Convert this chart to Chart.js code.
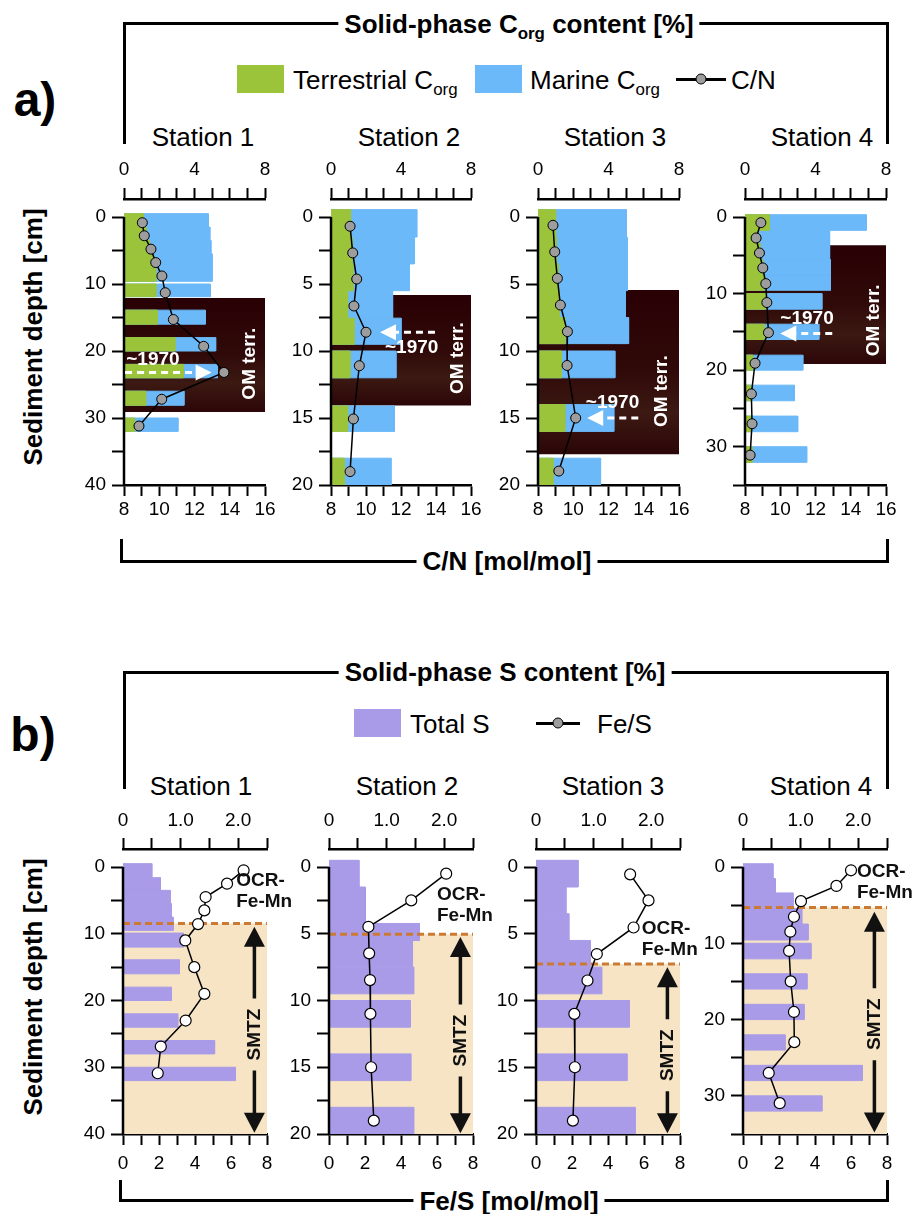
<!DOCTYPE html>
<html>
<head>
<meta charset="utf-8">
<title>Corg and S depth profiles</title>
<script src="https://cdn.jsdelivr.net/npm/chart.js@4.4.1/dist/chart.umd.min.js"></script>
<style>
  body { margin: 0; background: #fff; }
  #fig { position: relative; width: 914px; height: 1214px; overflow: hidden;
         font-family: "Liberation Sans", Arial, sans-serif; color: #000; }
  #fig canvas { position: absolute; }
  .t { position: absolute; white-space: nowrap; line-height: 1; transform: translate(-50%, -50%); }
  .l { position: absolute; white-space: nowrap; line-height: 1; transform: translateY(-50%); }
  .b { font-weight: bold; }
  .rot { transform: translate(-50%, -50%) rotate(-90deg); }
  .ttl { background: #fff; padding: 0 6px; font-size: 26px; font-weight: bold; }
  sub { font-size: 65%; vertical-align: baseline; position: relative; top: 0.38em; }
  .brk { position: absolute; box-sizing: border-box; border: 0 solid #000; }
  .sq { position: absolute; width: 47px; height: 28px; }
  .sym { position: absolute; height: 3.5px; background: #000; }
  .dot { position: absolute; width: 11px; height: 11px; border-radius: 50%; background: #9d9d9d;
         border: 1.5px solid #000; box-sizing: border-box; transform: translate(-50%, -50%); }
</style>
</head>
<body>
<div id="fig">
  <div class="t b" style="left:35px;top:100px;font-size:48px">a)</div>
  <div class="t b" style="left:33px;top:735px;font-size:48px">b)</div>

  <!-- a) brackets, title, legend -->
  <div class="brk" style="left:123px;top:22px;width:766px;height:122px;border-width:3px 3px 0 3px"></div>
  <div class="t ttl" style="left:519px;top:24px">Solid-phase C<sub>org</sub> content [%]</div>
  <div class="sq" style="left:237px;top:65px;background:#9bc43b"></div>
  <div class="l" style="left:293px;top:80px;font-size:26px">Terrestrial C<sub>org</sub></div>
  <div class="sq" style="left:475px;top:65px;background:#6cb9f9"></div>
  <div class="l" style="left:530px;top:80px;font-size:26px">Marine C<sub>org</sub></div>
  <div class="sym" style="left:676px;top:77.5px;width:50px"></div>
  <div class="dot" style="left:701px;top:79px"></div>
  <div class="l" style="left:731px;top:80px;font-size:26px">C/N</div>
  <div class="brk" style="left:120px;top:539px;width:769px;height:24px;border-width:0 3px 3px 3px"></div>
  <div class="t ttl" style="left:507px;top:561px">C/N [mol/mol]</div>
  <div class="t b rot" style="left:33px;top:337px;font-size:26px">Sediment depth [cm]</div>

  <!-- b) brackets, title, legend -->
  <div class="brk" style="left:123px;top:671px;width:766px;height:118px;border-width:3px 3px 0 3px"></div>
  <div class="t ttl" style="left:505px;top:672px">Solid-phase S content [%]</div>
  <div class="sq" style="left:354px;top:709px;background:#a99be8"></div>
  <div class="l" style="left:410px;top:724px;font-size:26px">Total S</div>
  <div class="sym" style="left:536px;top:721.5px;width:44px"></div>
  <div class="dot" style="left:558px;top:723px"></div>
  <div class="l" style="left:597px;top:724px;font-size:26px">Fe/S</div>
  <div class="brk" style="left:119px;top:1180px;width:770px;height:22px;border-width:0 3px 3px 3px"></div>
  <div class="t ttl" style="left:509px;top:1201px">Fe/S [mol/mol]</div>
  <div class="t b rot" style="left:33px;top:987px;font-size:26px">Sediment depth [cm]</div>
</div>

<script>
// ---------------- data ----------------
const stations = ["Station 1", "Station 2", "Station 3", "Station 4"];
const depthMax = [40, 20, 20, 35];
const depthTicks = [
  [0, 5, 10, 15, 20, 25, 30, 35, 40],
  [0, 2.5, 5, 7.5, 10, 12.5, 15, 17.5, 20],
  [0, 2.5, 5, 7.5, 10, 12.5, 15, 17.5, 20],
  [0, 5, 10, 15, 20, 25, 30, 35]
];
const depthLabelStep = [10, 5, 5, 10];

const corgTicks = [0, 1, 2, 3, 4, 5, 6, 7, 8];
const cnTicks = [8, 9, 10, 11, 12, 13, 14, 15, 16];
const sTicks = [0, 0.5, 1, 1.5, 2, 2.5];
const fesTicks = [0, 1, 2, 3, 4, 5, 6, 7, 8];

// a) Corg bars: depth interval (cm), terrestrial + marine Corg (%)
const corgBarTop = [
  [-0.5, 1.5, 3.5, 5.5, 7.5, 10.0, 13.9, 18.0, 22.0, 26.0, 30.0],
  [-0.55, 1.5, 3.5, 5.5, 7.55, 10.0, 14.1, 18.0],
  [-0.55, 1.5, 3.5, 5.5, 7.5, 10.0, 14.0, 18.0],
  [-0.3, 1.74, 3.48, 5.57, 7.6, 10.0, 14.0, 18.04, 21.96, 26.0, 30.0]
];
const corgBarBottom = [
  [1.5, 3.5, 5.5, 7.5, 9.6, 11.9, 16.0, 20.0, 24.0, 28.1, 32.0],
  [1.5, 3.5, 5.5, 7.55, 9.5, 12.0, 16.0, 20.0],
  [1.5, 3.5, 5.5, 7.5, 9.45, 12.0, 16.0, 20.0],
  [1.74, 3.48, 5.57, 7.6, 9.57, 12.04, 16.0, 20.0, 24.0, 28.04, 32.04]
];
const terrCorg = [
  [1.1, 1.25, 1.45, 1.65, 1.8, 1.81, 1.89, 2.89, 3.36, 1.23, 0.6],
  [1.12, 1.2, 1.25, 0.95, 1.31, 1.08, 0.95, 0.76],
  [1.0, 1.05, 1.15, 1.2, 1.52, 1.33, 1.52, 0.85],
  [1.39, 0.76, 0.85, 1.0, 1.1, 1.14, 1.09, 0.44, 0.32, 0.32, 0.4]
];
const marineCorg = [
  [3.68, 3.62, 3.48, 3.35, 3.2, 3.09, 2.72, 2.31, 1.94, 2.17, 2.46],
  [3.78, 3.56, 3.23, 2.57, 2.69, 2.63, 2.67, 2.67],
  [4.02, 4.01, 3.91, 3.75, 3.62, 3.03, 2.78, 2.7],
  [5.49, 4.04, 3.95, 3.85, 3.75, 3.22, 3.1, 2.84, 2.48, 2.67, 3.1]
];
// C/N (mol/mol)
const cnDepth = [
  [0.85, 2.8, 4.8, 6.8, 8.8, 11.3, 15.3, 19.3, 23.2, 27.2, 31.2],
  [0.69, 2.68, 4.63, 6.64, 8.6, 11.1, 15.07, 19.0],
  [0.62, 2.6, 4.58, 6.57, 8.55, 11.08, 15.0, 18.96],
  [0.74, 2.74, 4.7, 6.65, 8.7, 11.17, 15.1, 19.1, 23.1, 27.0, 31.1]
];
const cnRatio = [
  [9.04, 9.15, 9.53, 9.8, 10.15, 10.34, 10.8, 12.52, 13.67, 10.14, 8.85],
  [9.09, 9.24, 9.47, 9.31, 10.0, 9.62, 9.28, 9.09],
  [8.85, 8.95, 9.1, 9.27, 9.67, 9.65, 10.14, 9.18],
  [8.9, 8.63, 8.82, 9.01, 9.18, 9.24, 9.33, 8.57, 8.36, 8.4, 8.29]
];
// layer of terrestrial OM (cm)
const omTerrTop = [12.1, 5.82, 5.45, 3.7];
const omTerrBottom = [29.1, 14.07, 17.7, 19.2];
const year1970Depth = [23.2, 8.6, 15.0, 15.2];

// b) total S bars (%)
const sBarTop = [
  [-0.5, 1.6, 3.5, 5.5, 7.5, 9.9, 13.9, 18.0, 22.0, 26.0, 30.0],
  [-0.5, 1.5, 4.23, 5.5, 7.5, 10.0, 14.0, 18.0],
  [-0.5, 1.5, 3.5, 5.5, 7.5, 10.0, 14.0, 18.0],
  [-0.43, 1.52, 3.4, 5.43, 7.48, 10.0, 14.0, 18.0, 22.0, 26.0, 30.0]
];
const sBarBottom = [
  [1.6, 3.5, 5.5, 7.5, 9.5, 12.0, 16.0, 20.0, 24.0, 28.0, 32.0],
  [1.5, 4.23, 5.5, 7.5, 9.5, 12.0, 16.0, 20.0],
  [1.5, 3.5, 5.5, 7.5, 9.5, 12.0, 16.0, 20.0],
  [1.52, 3.4, 5.43, 7.48, 9.57, 12.04, 16.0, 20.0, 24.0, 28.0, 32.0]
];
const totalS = [
  [0.5, 0.65, 0.82, 0.84, 0.87, 1.05, 0.98, 0.84, 0.95, 1.59, 1.95],
  [0.52, 0.63, 1.57, 1.45, 1.47, 1.41, 1.42, 1.47],
  [0.73, 0.52, 0.57, 0.94, 1.14, 1.62, 1.58, 1.72],
  [0.52, 0.56, 0.87, 1.02, 1.13, 1.18, 1.11, 1.06, 0.73, 2.07, 1.37]
];
// Fe/S (mol/mol)
const fesDepth = [
  [0.5, 2.5, 4.5, 6.5, 8.55, 11.0, 15.0, 19.0, 23.0, 26.9, 30.9],
  [0.5, 2.5, 4.48, 6.47, 8.47, 11.0, 15.0, 19.0],
  [0.55, 2.5, 4.53, 6.52, 8.5, 11.0, 15.0, 19.0],
  [0.43, 2.48, 4.48, 6.52, 8.48, 11.0, 15.0, 19.0, 22.96, 27.0, 30.96]
];
const fesRatio = [
  [6.7, 5.78, 4.59, 4.52, 4.17, 3.46, 3.96, 4.52, 3.48, 2.1, 1.93],
  [6.51, 4.57, 2.19, 2.23, 2.28, 2.3, 2.34, 2.49],
  [5.23, 6.25, 5.42, 3.38, 2.86, 2.13, 2.16, 2.05],
  [6.0, 5.19, 3.22, 2.83, 2.63, 2.56, 2.65, 2.83, 2.85, 1.43, 2.04]
];
// top of the SMTZ (cm)
const smtzTop = [8.45, 5.03, 7.27, 5.3];

// -------- annotation placement (data units) --------
const arrowFromX = [0.06, 5.94, 5.69, 4.95];
const arrowToX = [4.97, 2.8, 2.79, 2.0];
const label1970X = [1.64, 4.61, 4.23, 3.52];
const label1970Depth = [21.3, 9.74, 13.88, 13.26];
const omLabelX = [7.15, 7.24, 7.05, 7.33];
const omLabelDepth = [21.9, 10.53, 13.0, 13.5];
const smtzArrowX = 7.3;
const smtzArrowTop = [8.95, 5.24, 7.5, 5.87];
const smtzArrowBottom = [39.8, 19.95, 19.95, 34.8];
const smtzLabelDepth = [25.1, 13.0, 14.1, 20.6];
const ocrX = [6.29, 6.0, 5.88, 6.33];
const ocrDepth = [2.1, 2.1, 4.6, 0.65];

// -------- panel layout (px) --------
const aLeft = [124, 331, 538, 745], aRight = [265, 471, 679, 886];
const bLeft = [123, 329, 536, 743], bRight = [267, 473, 680, 887];
const aTitleX = [203, 409, 615, 822], bTitleX = [201, 407, 613, 821];

const FONT = '"Liberation Sans", Arial, sans-serif';
Chart.defaults.font.family = FONT;
Chart.defaults.color = "#000";
const fig = document.getElementById("fig");

function addText(str, cx, cy, size) {
  const d = document.createElement("div");
  d.className = "t";
  d.style.left = cx + "px";
  d.style.top = cy + "px";
  d.style.fontSize = size + "px";
  d.textContent = str;
  fig.appendChild(d);
}

// closed rectangles separated by gaps, filled with fill:'shape'
function rectPoints(tops, bottoms, from, to) {
  const pts = [];
  tops.forEach((t, k) => {
    const b = bottoms[k];
    const x0 = Array.isArray(from) ? from[k] : from;
    const x1 = Array.isArray(to) ? to[k] : to;
    pts.push({x: x0, y: t}, {x: x1, y: t}, {x: x1, y: b}, {x: x0, y: b}, {x: null, y: null});
  });
  return pts;
}

// edge = 1 strokes the outline in the fill colour so stacked rows join without seams
function shape(axis, data, color, order, edge) {
  return {xAxisID: axis, data: data, showLine: true, fill: "shape", backgroundColor: color,
          borderColor: color, borderWidth: edge || 0, pointRadius: 0, order: order};
}

function arrowHead(ctx, x, y, dx, dy, len, half) {
  const bx = x - dx * len, by = y - dy * len;
  ctx.beginPath();
  ctx.moveTo(x, y);
  ctx.lineTo(bx - dy * half, by + dx * half);
  ctx.lineTo(bx + dy * half, by - dx * half);
  ctx.closePath();
  ctx.fill();
}

function depthAxisLine(chart) {
  const {ctx, chartArea, scales} = chart;
  ctx.strokeStyle = "#000";
  ctx.lineWidth = 2.5;
  ctx.beginPath();
  ctx.moveTo(chartArea.left, scales.y.getPixelForValue(0));
  ctx.lineTo(chartArea.left, chartArea.bottom + 1);
  ctx.stroke();
}

function decorA(i) {
  return chart => {
    const {ctx, scales: {xt, y}} = chart;
    ctx.save();
    depthAxisLine(chart);
    const yy = y.getPixelForValue(year1970Depth[i]);
    const x0 = xt.getPixelForValue(arrowFromX[i]);
    const x1 = xt.getPixelForValue(arrowToX[i]);
    const dir = x1 > x0 ? 1 : -1;
    ctx.strokeStyle = "#fff";
    ctx.fillStyle = "#fff";
    ctx.lineWidth = 3;
    ctx.setLineDash([7, 5]);
    ctx.beginPath();
    ctx.moveTo(x0, yy);
    ctx.lineTo(x1 - dir * 14, yy);
    ctx.stroke();
    ctx.setLineDash([]);
    arrowHead(ctx, x1, yy, dir, 0, 16, 8);
    ctx.font = 'bold 19px ' + FONT;
    ctx.textAlign = "center";
    ctx.textBaseline = "middle";
    ctx.fillText("~1970", xt.getPixelForValue(label1970X[i]), y.getPixelForValue(label1970Depth[i]));
    ctx.translate(xt.getPixelForValue(omLabelX[i]), y.getPixelForValue(omLabelDepth[i]));
    ctx.rotate(-Math.PI / 2);
    ctx.fillText("OM terr.", 0, 0);
    ctx.restore();
  };
}

function decorB(i) {
  return chart => {
    const {ctx, scales: {xb, y}} = chart;
    ctx.save();
    depthAxisLine(chart);
    const x = xb.getPixelForValue(smtzArrowX);
    const yTop = y.getPixelForValue(smtzArrowTop[i]);
    const yBot = y.getPixelForValue(smtzArrowBottom[i]);
    const yMid = y.getPixelForValue(smtzLabelDepth[i]);
    ctx.fillStyle = "#111";
    ctx.strokeStyle = "#111";
    ctx.lineWidth = 3.5;
    arrowHead(ctx, x, yTop, 0, -1, 20, 10.5);
    arrowHead(ctx, x, yBot, 0, 1, 20, 10.5);
    ctx.beginPath();
    ctx.moveTo(x, yTop + 19); ctx.lineTo(x, yMid - 36);
    ctx.moveTo(x, yMid + 36); ctx.lineTo(x, yBot - 19);
    ctx.stroke();
    ctx.font = 'bold 19px ' + FONT;
    ctx.textAlign = "center";
    ctx.textBaseline = "middle";
    ctx.save();
    ctx.translate(x, yMid);
    ctx.rotate(-Math.PI / 2);
    ctx.fillText("SMTZ", 0, 0);
    ctx.restore();
    ctx.textAlign = "left";
    const ox = xb.getPixelForValue(ocrX[i]), oy = y.getPixelForValue(ocrDepth[i]);
    ctx.fillText("OCR-", ox, oy);
    ctx.fillText("Fe-Mn", ox, oy + 21);
    ctx.restore();
  };
}

function buildPanel(p) {
  const yw = 40, th = 52, bh = 48;
  const cv = document.createElement("canvas");
  cv.width = p.right - p.left + yw + p.padRight;
  cv.height = p.bottom - p.top + th + bh;
  cv.style.left = (p.left - yw) + "px";
  cv.style.top = (p.top - th) + "px";
  fig.appendChild(cv);
  const gap = 18;  // px between the top axis and 0 cm
  const ymin = -gap * p.ymax / (p.bottom - p.top - gap);
  const tickFont = {family: FONT, size: 19};
  const xAxis = (pos, min, max, ticks, label, pad) => ({
    type: "linear", position: pos, min: min, max: max, z: 1,
    afterBuildTicks: s => { s.ticks = ticks.map(v => ({value: v})); },
    afterFit: s => { s.height = pos === "top" ? th : bh; },
    grid: {drawOnChartArea: false, tickLength: 11, tickWidth: 2, tickColor: "#000"},
    border: {display: true, color: "#000", width: 2.5},
    ticks: {autoSkip: false, maxRotation: 0, padding: pad, font: tickFont, callback: label}
  });
  return new Chart(cv, {
    type: "scatter",
    data: {datasets: p.datasets},
    options: {
      responsive: false, animation: false, events: [],
      layout: {padding: {left: 0, right: p.padRight, top: 0, bottom: 0}},
      plugins: {legend: {display: false}, tooltip: {enabled: false}},
      scales: {
        xt: xAxis("top", p.xtMin, p.xtMax, p.xtTicks, p.xtLabel, p.padTop),
        xb: xAxis("bottom", p.xbMin, p.xbMax, p.xbTicks, p.xbLabel, p.padBottom),
        y: {
          type: "linear", position: "left", reverse: true, min: ymin, max: p.ymax, z: 1,
          afterBuildTicks: s => { s.ticks = p.yTicks.map(v => ({value: v})); },
          afterFit: s => { s.width = yw; },
          grid: {drawOnChartArea: false, tickLength: 12, tickWidth: 2, tickColor: "#000"},
          border: {display: false},
          ticks: {autoSkip: false, padding: 6, font: tickFont,
                  callback: v => (v % p.yStep === 0 ? v : "")}
        }
      }
    },
    plugins: [{id: "decor", afterDatasetsDraw: p.decor}]
  });
}

function omColor(i) {
  return c => {
    const chart = c.chart, y = chart.scales.y;
    if (!y || !chart.chartArea) return "#2b0407";
    const g = chart.ctx.createLinearGradient(0, y.getPixelForValue(omTerrTop[i]), 0, y.getPixelForValue(omTerrBottom[i]));
    g.addColorStop(0, "#290004");
    g.addColorStop(0.5, "#300a09");
    g.addColorStop(0.75, "#3c1912");
    g.addColorStop(1, "#2c0608");
    return g;
  };
}

// ---- a) panels ----
stations.forEach((name, i) => {
  addText(name, aTitleX[i], 137, 26);
  const total = terrCorg[i].map((v, k) => v + marineCorg[i][k]);
  buildPanel({
    left: aLeft[i], right: aRight[i], top: 199, bottom: 485, padRight: 20,
    ymax: depthMax[i], yTicks: depthTicks[i], yStep: depthLabelStep[i],
    xtMin: 0, xtMax: 8, xtTicks: corgTicks, xtLabel: v => (v % 4 === 0 ? v : ""), padTop: 7,
    xbMin: 8, xbMax: 16, xbTicks: cnTicks, xbLabel: v => (v % 2 === 0 ? v : ""), padBottom: 2,
    decor: decorA(i),
    datasets: [
      shape("xt", rectPoints([omTerrTop[i]], [omTerrBottom[i]], 0, 8), omColor(i), 10),
      shape("xt", rectPoints(corgBarTop[i], corgBarBottom[i], 0, total), "#6cb9f9", 9, 1),
      shape("xt", rectPoints(corgBarTop[i], corgBarBottom[i], 0, terrCorg[i]), "#9bc43b", 8, 1),
      {xAxisID: "xb", data: cnDepth[i].map((d, k) => ({x: cnRatio[i][k], y: d})), showLine: true,
       borderColor: "#000", borderWidth: 1.5, pointRadius: 5, pointBackgroundColor: "#9d9d9d",
       pointBorderColor: "#000", pointBorderWidth: 1, order: 1}
    ]
  });
});

// ---- b) panels ----
stations.forEach((name, i) => {
  addText(name, bTitleX[i], 786, 26);
  buildPanel({
    left: bLeft[i], right: bRight[i], top: 849, bottom: 1134, padRight: 28,
    ymax: depthMax[i], yTicks: depthTicks[i], yStep: depthLabelStep[i],
    xtMin: 0, xtMax: 2.5, xtTicks: sTicks,
    xtLabel: v => (v === 0 ? "0" : (v % 1 === 0 ? v.toFixed(1) : "")), padTop: 6,
    xbMin: 0, xbMax: 8, xbTicks: fesTicks, xbLabel: v => (v % 2 === 0 ? v : ""), padBottom: 7,
    decor: decorB(i),
    datasets: [
      shape("xb", rectPoints([smtzTop[i]], [depthMax[i]], 0, 8), "#f6e4c5", 10),
      shape("xt", rectPoints(sBarTop[i], sBarBottom[i], 0, totalS[i]), "#a99be8", 9, 1),
      {xAxisID: "xb", data: [{x: 0, y: smtzTop[i]}, {x: 8, y: smtzTop[i]}], showLine: true,
       borderColor: "#cc7a33", borderWidth: 3, borderDash: [7, 4], pointRadius: 0, order: 5},
      {xAxisID: "xb", data: fesDepth[i].map((d, k) => ({x: fesRatio[i][k], y: d})), showLine: true,
       borderColor: "#000", borderWidth: 1.5, pointRadius: 5.5, pointBackgroundColor: "#fff",
       pointBorderColor: "#000", pointBorderWidth: 1.2, order: 1}
    ]
  });
});
</script>
</body>
</html>
